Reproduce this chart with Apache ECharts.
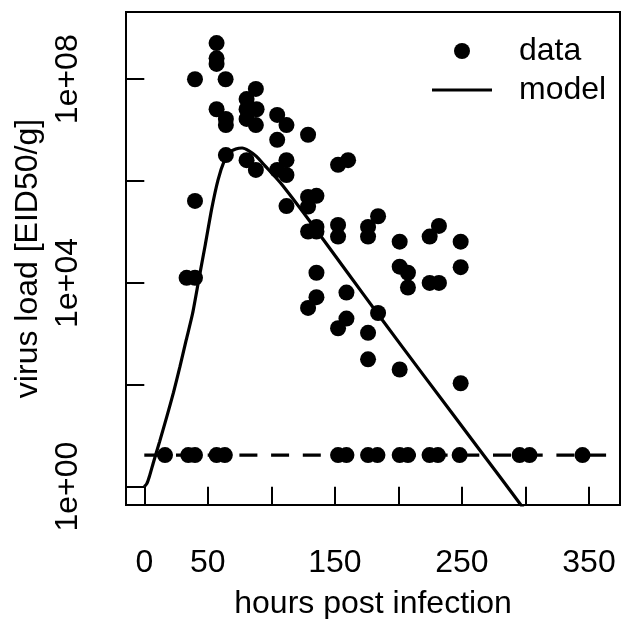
<!DOCTYPE html>
<html>
<head>
<meta charset="utf-8">
<script src="https://cdn.jsdelivr.net/npm/echarts@6/dist/echarts.min.js"></script>
<style>
html,body{margin:0;padding:0;background:#fff;}
#chart{width:624px;height:619px;}
</style>
</head>
<body>
<div id="chart"></div>
<script>
// observed data: hours post infection and log10 virus load [EID50/g]
const dataHours = [
  56.9, 56.9, 56.9, 39.9, 64.0, 87.8, 80.5, 80.5, 88.4, 56.9,
  64.2, 64.2, 80.5, 87.8, 104.6, 111.9, 104.6, 128.9, 64.2, 80.5,
  87.8, 111.9, 104.6, 111.9, 152.5, 160.4, 39.9, 128.9, 135.5, 128.9,
  111.9, 128.9, 135.5, 135.5, 152.5, 152.5, 176.1, 184.0, 176.1, 201.0,
  224.6, 231.9, 249.0, 135.5, 201.0, 207.5, 207.5, 224.6, 231.9, 249.0,
  128.9, 135.5, 159.1, 152.5, 159.1, 184.0, 176.1, 176.1, 201.0, 249.0,
  33.3, 39.9,
  16.3, 34.6, 39.9, 56.9, 63.4, 152.5, 159.1, 176.1, 183.5, 201.0,
  207.5, 224.5, 231.1, 248.2, 295.4, 303.2, 344.9
];
const dataLogLoad = [
  8.71, 8.41, 8.30, 8.00, 8.00, 7.81, 7.61, 7.41, 7.41, 7.41,
  7.22, 7.10, 7.22, 7.10, 7.30, 7.10, 6.81, 6.91, 6.51, 6.41,
  6.22, 6.41, 6.22, 6.12, 6.32, 6.41, 5.61, 5.69, 5.71, 5.50,
  5.51, 5.01, 5.10, 5.01, 5.14, 4.91, 5.10, 5.31, 4.91, 4.81,
  4.91, 5.12, 4.81, 4.20, 4.32, 4.20, 3.91, 4.00, 4.00, 4.31,
  3.51, 3.72, 3.81, 3.11, 3.30, 3.41, 3.02, 2.50, 2.30, 2.03,
  4.10, 4.10,
  0.62, 0.62, 0.62, 0.62, 0.62, 0.62, 0.62, 0.62, 0.62, 0.62,
  0.62, 0.62, 0.62, 0.62, 0.62, 0.62, 0.62
];
// model curve
const modelHours = [0, 2, 4, 7, 12, 18, 23, 28, 33, 38, 43, 48, 53, 58, 63, 67, 72, 77, 82, 88, 95, 107, 130, 160, 185, 220, 264, 280, 300];
const modelLogLoad = [0, 0.06, 0.2, 0.46, 0.88, 1.4, 1.85, 2.35, 2.88, 3.4, 4.08, 4.75, 5.45, 6.02, 6.4, 6.56, 6.63, 6.65, 6.6, 6.49, 6.3, 5.97, 5.22, 4.2, 3.35, 2.18, 0.72, 0.19, -0.48];
// detection limit (dashed)
const limitHours = [0, 374.4];
const limitLogLoad = [0.62, 0.62];
// axes
const xTicks = [0, 50, 100, 150, 200, 250, 300, 350];
const xTickLabels = [0, 50, 150, 250, 350];
const yTicks = [0, 2, 4, 6, 8];
const yTickLabels = [0, 4, 8];

const FONT = "'Liberation Sans', Arial, sans-serif";
const FS = 32;
const zip = (a, b) => a.map((v, i) => [v, b[i]]);

const chart = echarts.init(document.getElementById('chart'), null, {renderer: 'canvas'});
chart.setOption({
  animation: false,
  backgroundColor: '#ffffff',
  textStyle: {fontFamily: FONT},
  grid: {left: 126, top: 12, width: 494, height: 493, show: true, borderColor: '#000', borderWidth: 2,
    backgroundColor: 'transparent', containLabel: false, outerBoundsMode: 'none'},
  legend: {
    orient: 'vertical', left: 432, top: 35, padding: 0,
    itemWidth: 60, itemHeight: 16, itemGap: 7,
    data: [
      {name: 'data', icon: 'circle'},
      {name: 'model', icon: 'path://M0,0 L60,0 L60,3.2 L0,3.2 Z'}
    ],
    textStyle: {fontFamily: FONT, fontSize: FS, color: '#000', padding: [0, 0, 0, 22]}
  },
  xAxis: {
    type: 'value', min: -14.4, max: 374.4,
    name: 'hours post infection', nameLocation: 'middle', nameGap: 83,
    nameTextStyle: {fontFamily: FONT, fontSize: FS, color: '#000'},
    axisLine: {show: false},
    axisTick: {show: true, length: 18, customValues: xTicks, lineStyle: {color: '#000', width: 2}},
    axisLabel: {customValues: xTickLabels, fontFamily: FONT, fontSize: FS, color: '#000', margin: 42},
    splitLine: {show: false}
  },
  yAxis: {
    type: 'value', min: -0.36, max: 9.32,
    name: 'virus load [EID50/g]', nameLocation: 'middle', nameGap: 78,
    nameTextStyle: {fontFamily: FONT, fontSize: FS, color: '#000'},
    axisLine: {show: false},
    axisTick: {show: true, length: 18, customValues: yTicks, lineStyle: {color: '#000', width: 2}},
    axisLabel: {customValues: yTickLabels, rotate: 90, fontFamily: FONT, fontSize: FS, color: '#000', margin: 42,
      formatter: v => '1e+' + String(v).padStart(2, '0')},
    splitLine: {show: false}
  },
  series: [
    {name: 'data', type: 'scatter', data: zip(dataHours, dataLogLoad), symbol: 'circle', symbolSize: 16,
      itemStyle: {color: '#000', opacity: 1}, z: 3},
    {name: 'model', type: 'line', data: zip(modelHours, modelLogLoad), showSymbol: false, symbol: 'none', smooth: 0.2,
      clip: true, lineStyle: {color: '#000', width: 3.2}, itemStyle: {color: '#000'}, z: 2},
    {name: 'limit', type: 'line', data: zip(limitHours, limitLogLoad), showSymbol: false, symbol: 'none',
      clip: true, lineStyle: {color: '#000', width: 3.2, type: [18, 13.7]}, z: 1}
  ]
});
</script>
</body>
</html>
